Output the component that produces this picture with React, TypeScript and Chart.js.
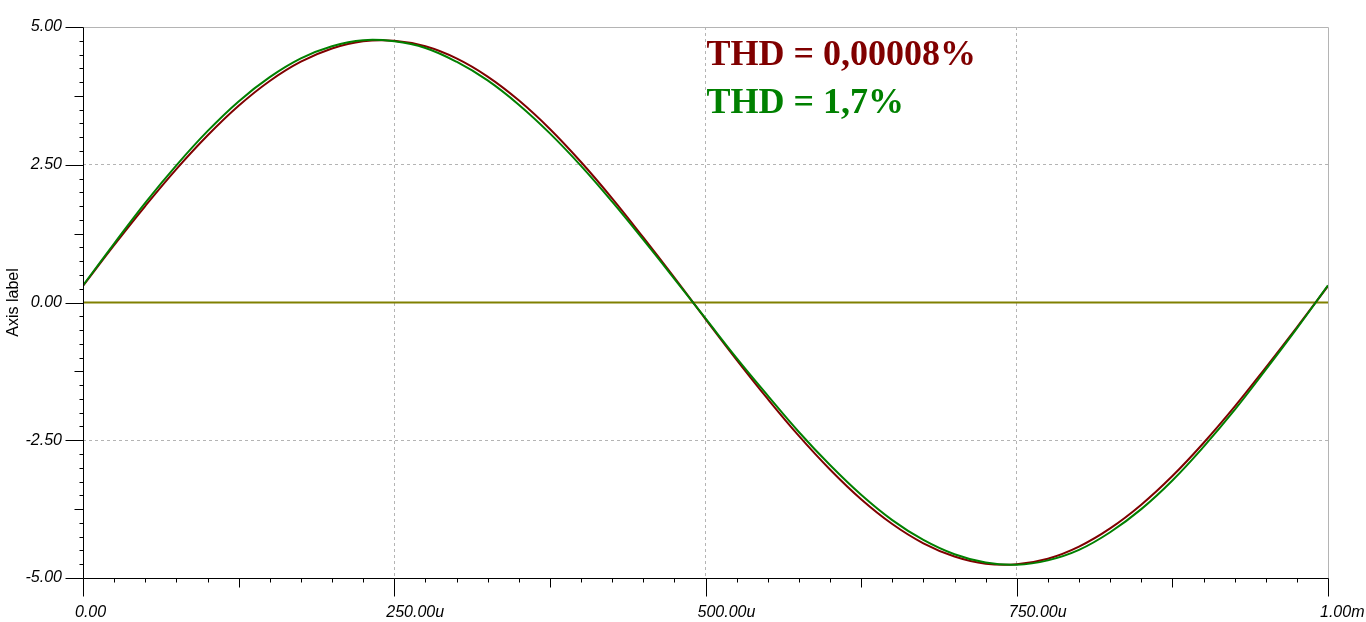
import React, { useEffect, useRef } from "react";
import { Chart, registerables } from "chart.js";

Chart.register(...registerables);

// time axis in microseconds
const timeUs = [
  0, 25, 50, 75, 100, 125, 150, 175, 200, 225, 250, 275, 300, 325, 350, 375, 400, 425, 450, 475,
  500, 525, 550, 575, 600, 625, 650, 675, 700, 725, 750, 775, 800, 825, 850, 875, 900, 925, 950, 975,
  1000,
];

// low-distortion output (dark red)
const outLowThd = [
  0.3, 1.04, 1.75, 2.42, 3.03, 3.57, 4.02, 4.37, 4.61, 4.74, 4.75, 4.65, 4.43, 4.1, 3.67, 3.15, 2.55,
  1.89, 1.18, 0.45, -0.3, -1.04, -1.75, -2.42, -3.03, -3.57, -4.02, -4.37, -4.61, -4.74, -4.75, -4.65,
  -4.43, -4.1, -3.67, -3.15, -2.55, -1.89, -1.18, -0.45, 0.3,
];

// distorted output (green)
const outHighThd = [
  0.31, 1.07, 1.81, 2.49, 3.11, 3.65, 4.09, 4.43, 4.65, 4.76, 4.74, 4.62, 4.37, 4.03, 3.59, 3.07, 2.48,
  1.83, 1.14, 0.43, -0.29, -1.01, -1.69, -2.35, -2.95, -3.49, -3.95, -4.31, -4.57, -4.72, -4.76, -4.68,
  -4.49, -4.17, -3.75, -3.23, -2.62, -1.95, -1.22, -0.47, 0.31,
];

// reference (olive) line
const refTimes = [0, 1000];
const refValues = [0, 0];

const xTickValues = [0, 250, 500, 750, 1000];
const xTickLabels = ["0.00", "250.00u", "500.00u", "750.00u", "1.00m"];
const yTickValues = [-5, -2.5, 0, 2.5, 5];
const yTickLabels = ["-5.00", "-2.50", "0.00", "2.50", "5.00"];
const yAxisTitle = "Axis label";

const noteTexts = ["THD = 0,00008%", "THD = 1,7%"];
const noteColors = ["#800000", "#008000"];

const RED = "#800000";
const GREEN = "#008000";
const OLIVE = "#808000";
const GRID = "#b4b4b4";
const SANS = '"Liberation Sans", Arial, sans-serif';

const framePlugin = {
  id: "framePlugin",
  afterDraw(chart: any) {
    const { ctx, chartArea } = chart;
    const xs = chart.scales.x;
    const ys = chart.scales.y;
    const L = Math.round(chartArea.left) + 0.5;
    const R = Math.round(chartArea.right) + 0.5;
    const T = Math.round(chartArea.top) + 0.5;
    const B = Math.round(chartArea.bottom) + 0.5;
    ctx.save();
    ctx.lineWidth = 1;
    // grey frame top & right
    ctx.strokeStyle = GRID;
    ctx.beginPath();
    ctx.moveTo(L, T);
    ctx.lineTo(R, T);
    ctx.moveTo(R, T);
    ctx.lineTo(R, B);
    ctx.stroke();
    // black axes
    ctx.strokeStyle = "#000";
    ctx.beginPath();
    ctx.moveTo(L, T);
    ctx.lineTo(L, B);
    ctx.moveTo(L, B);
    ctx.lineTo(R, B);
    // x ticks every 25u
    for (let i = 0; i <= 40; i++) {
      const v = i * 25;
      const px = Math.round(xs.getPixelForValue(v)) + 0.5;
      const len = i % 10 === 0 ? 18 : i % 5 === 0 ? 9 : 4;
      ctx.moveTo(px, B);
      ctx.lineTo(px, B + len);
    }
    // y ticks every 0.25
    for (let i = 0; i <= 40; i++) {
      const v = -5 + i * 0.25;
      const py = Math.round(ys.getPixelForValue(v)) + 0.5;
      const len = i % 10 === 0 ? 18 : i % 5 === 0 ? 9 : 4;
      ctx.moveTo(L, py);
      ctx.lineTo(L - len, py);
    }
    ctx.stroke();

    // THD notes
    ctx.font = 'bold 36px "Liberation Serif", "Times New Roman", serif';
    ctx.textAlign = "left";
    ctx.textBaseline = "alphabetic";
    const tx = xs.getPixelForValue(500) + 1;
    noteTexts.forEach((t, i) => {
      ctx.fillStyle = noteColors[i];
      ctx.fillText(t, tx, chartArea.top + 38 + i * 48);
    });
    ctx.restore();
  },
};

export default function App() {
  const ref = useRef<HTMLCanvasElement | null>(null);

  useEffect(() => {
    if (!ref.current) return;
    const chart = new Chart(ref.current, {
      type: "line",
      data: {
        datasets: [
          {
            label: "ref",
            data: refTimes.map((t, i) => ({ x: t, y: refValues[i] })),
            borderColor: OLIVE,
            borderWidth: 2,
            pointRadius: 0,
            order: 3,
          },
          {
            label: "low THD",
            data: timeUs.map((t, i) => ({ x: t, y: outLowThd[i] })),
            borderColor: RED,
            borderWidth: 2,
            pointRadius: 0,
            tension: 0.4,
            order: 2,
          },
          {
            label: "high THD",
            data: timeUs.map((t, i) => ({ x: t, y: outHighThd[i] })),
            borderColor: GREEN,
            borderWidth: 2,
            pointRadius: 0,
            tension: 0.4,
            order: 1,
          },
        ],
      },
      options: {
        animation: false,
        responsive: true,
        maintainAspectRatio: false,
        layout: { padding: { top: 27, right: 38, left: 0, bottom: 0 } },
        plugins: {
          legend: { display: false },
          tooltip: { enabled: false },
        },
        scales: {
          x: {
            type: "linear",
            min: 0,
            max: 1000,
            afterFit: (s: any) => {
              s.height = 44;
              s.paddingLeft = 0;
              s.paddingRight = 0;
            },
            afterBuildTicks: (s: any) => {
              s.ticks = xTickValues.map((v) => ({ value: v }));
            },
            ticks: {
              autoSkip: false,
              maxRotation: 0,
              align: "start",
              labelOffset: -8,
              padding: 25,
              color: "#000",
              font: { family: SANS, size: 16, style: "italic" },
              callback: (v: any) => {
                const i = xTickValues.indexOf(Number(v));
                return i >= 0 ? xTickLabels[i] : "";
              },
            },
            grid: {
              drawTicks: false,
              lineWidth: 1,
              color: (c: any) =>
                c.tick && (c.tick.value === 0 || c.tick.value === 1000) ? "rgba(0,0,0,0)" : GRID,
            },
            border: { display: false, dash: [3, 3] },
          },
          y: {
            type: "linear",
            min: -5,
            max: 5,
            afterFit: (s: any) => {
              s.width = 83;
              s.paddingTop = 0;
              s.paddingBottom = 0;
            },
            afterBuildTicks: (s: any) => {
              s.ticks = yTickValues.map((v) => ({ value: v }));
            },
            ticks: {
              autoSkip: false,
              padding: 21,
              color: "#000",
              font: { family: SANS, size: 16, style: "italic" },
              callback: (v: any) => {
                const i = yTickValues.indexOf(Number(v));
                return i >= 0 ? yTickLabels[i] : "";
              },
            },
            title: {
              display: true,
              text: yAxisTitle,
              color: "#000",
              font: { family: SANS, size: 16 },
              padding: { top: 4, bottom: 0 },
            },
            grid: {
              drawTicks: false,
              lineWidth: 1,
              color: (c: any) =>
                c.tick && (c.tick.value === 5 || c.tick.value === -5 || c.tick.value === 0)
                  ? "rgba(0,0,0,0)"
                  : GRID,
            },
            border: { display: false, dash: [3, 3] },
          },
        },
      },
      plugins: [framePlugin],
    });
    return () => chart.destroy();
  }, []);

  return (
    <div
      style={{
        position: "fixed",
        left: 0,
        top: 0,
        width: 1366,
        height: 622,
        background: "#fff",
      }}
    >
      <canvas ref={ref} />
    </div>
  );
}
